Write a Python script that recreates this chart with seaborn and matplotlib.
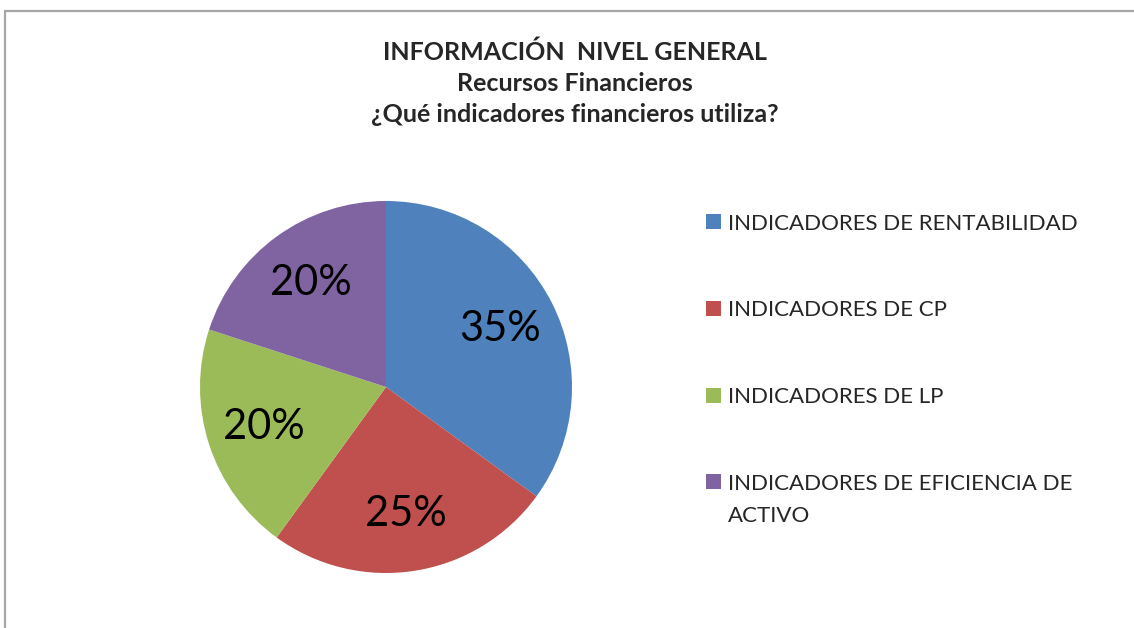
import matplotlib
matplotlib.use("Agg")
import matplotlib.pyplot as plt
import seaborn as sns
from matplotlib.patches import Patch
from matplotlib.lines import Line2D

categories = ["INDICADORES DE RENTABILIDAD", "INDICADORES DE CP",
              "INDICADORES DE LP", "INDICADORES DE EFICIENCIA DE ACTIVO"]
values = [35, 25, 20, 20]
colors = ["#4F81BD", "#C0504D", "#9BBB59", "#8064A2"]
title_lines = ["INFORMACIÓN  NIVEL GENERAL", "Recursos Financieros",
               "¿Qué indicadores financieros utiliza?"]

sns.set_theme(style="white")
plt.rcParams["font.family"] = ["Lato", "DejaVu Sans"]

W, H = 1134, 628
fig = plt.figure(figsize=(W / 100, H / 100), dpi=100)
fig.patch.set_facecolor("white")

# pie centred at (386, 387) px, radius 186 px
cx, cy, r = 386, 387, 186
half = 1.25 * r
ax = fig.add_axes([(cx - half) / W, (H - cy - half) / H, 2 * half / W, 2 * half / H])
wedges, texts, autotexts = ax.pie(
    values, colors=colors, startangle=90, counterclock=False,
    autopct=lambda p: f"{p:.0f}%", pctdistance=0.69,
    wedgeprops=dict(linewidth=0),
    textprops=dict(fontsize=30, color="black"),
)
ax.set_aspect("equal")

fig.text(575 / W, 1 - 83.5 / H, "\n".join(title_lines), ha="center", va="center",
         fontsize=18, fontweight="bold", linespacing=1.42)

# legend: last entry wraps, the wrapped word goes on its own line below
first, rest = categories[-1].rsplit(" ", 1)
leg_labels = categories[:-1] + [first]
handles = [Patch(facecolor=c, edgecolor="none") for c in colors]
leg = fig.legend(handles, leg_labels, loc="upper left",
                 bbox_to_anchor=(706 / W, 1 - 213.5 / H), frameon=False,
                 fontsize=16, handlelength=0.66, handleheight=0.66,
                 handletextpad=0.32, labelspacing=3.0, borderpad=0, borderaxespad=0)

fig.canvas.draw()
bb = leg.get_texts()[-1].get_window_extent()
fig.text(bb.x0 / W, ((bb.y0 + bb.y1) / 2 - 32) / H, rest, ha="left", va="center",
         fontsize=16)

# chart border (top and left edges visible)
fig.add_artist(Line2D([5 / W, 1], [1 - 11 / H, 1 - 11 / H], color="#A6A6A6", lw=1.6))
fig.add_artist(Line2D([5 / W, 5 / W], [0, 1 - 11 / H], color="#A6A6A6", lw=1.6))

fig.savefig("out.png", dpi=100, facecolor="white")
